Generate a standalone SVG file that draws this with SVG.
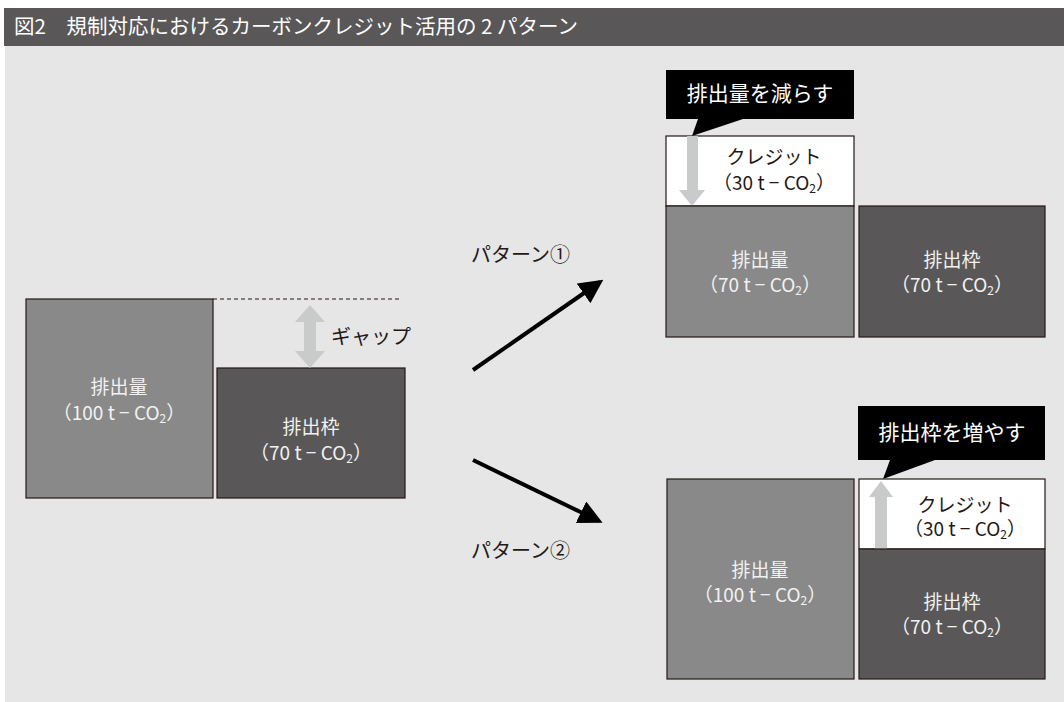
<svg xmlns="http://www.w3.org/2000/svg" width="1064" height="702" viewBox="0 0 1064 702">
<defs>
<style>
text{font-family:"Noto Sans CJK JP","Noto Sans",sans-serif;}
.lt{fill:#f2f2f2;font-size:19px;text-anchor:middle;}
.dk{fill:#231815;font-size:19px;text-anchor:middle;}
.em{fill:#898989;stroke:#231815;stroke-width:1.2;}
.cap{fill:#595757;stroke:#231815;stroke-width:1.2;}
.cr{fill:#ffffff;stroke:#231815;stroke-width:1.2;}
.bub{fill:#000000;}
.bt{fill:#ffffff;font-size:21px;text-anchor:middle;}
.ga{fill:#c9caca;}
.lbl{fill:#231815;font-size:20px;}
.con{stroke:#000;stroke-width:4;fill:none;}
.sub{font-size:12px;}
</style>
<marker id="ah" markerWidth="6" markerHeight="6" refX="5" refY="3" orient="auto" markerUnits="strokeWidth">
<path d="M0,0 L6,3 L0,6 Z" fill="#000"/>
</marker>
</defs>
<rect x="0" y="0" width="1064" height="702" fill="#ffffff"/>
<rect x="5" y="46" width="1059" height="656" fill="#e6e6e6"/>
<g id="header">
<rect x="4" y="8" width="1060" height="38" fill="#595757"/>
<text x="14" y="34" fill="#ffffff" font-size="20.5">図2　規制対応におけるカーボンクレジット活用の 2 パターン</text>
</g>
<g id="left-emission">
<rect class="em" x="26" y="299" width="187" height="199"/>
<text class="lt" x="119" y="394">排出量</text>
<text class="lt" x="119" y="420">（100 t − CO<tspan class="sub" dy="3">2</tspan><tspan dy="-3">）</tspan></text>
</g>
<g id="left-cap">
<rect class="cap" x="217" y="368" width="188" height="130"/>
<text class="lt" x="311" y="434">排出枠</text>
<text class="lt" x="311" y="460">（70 t − CO<tspan class="sub" dy="3">2</tspan><tspan dy="-3">）</tspan></text>
</g>
<g id="gap">
<line x1="213" y1="299" x2="402" y2="299" stroke="#231815" stroke-width="1" stroke-dasharray="4,3"/>
<path class="ga" d="M310,305 L325,322 L316,322 L316,351 L325,351 L310,368 L295,351 L304,351 L304,322 L295,322 Z"/>
<text class="lbl" x="331" y="344">ギャップ</text>
</g>
<g id="connectors">
<line class="con" x1="473" y1="370" x2="600" y2="282" marker-end="url(#ah)"/>
<line class="con" x1="473" y1="460" x2="599" y2="521" marker-end="url(#ah)"/>
</g>
<g id="label-p1"><text class="lbl" x="471" y="262">パターン①</text></g>
<g id="label-p2"><text class="lbl" x="471" y="558">パターン②</text></g>
<g id="p1-bubble">
<path class="bub" d="M666,70 L854,70 L854,119 L743,119 L692,136 L698,119 L666,119 Z"/>
<text class="bt" x="760" y="101">排出量を減らす</text>
</g>
<g id="p1-credit">
<rect class="cr" x="666" y="136" width="188" height="70"/>
<text class="dk" x="774" y="164">クレジット</text>
<text class="dk" x="774" y="190">（30 t − CO<tspan class="sub" dy="3">2</tspan><tspan dy="-3">）</tspan></text>
<path class="ga" d="M687,136 L698,136 L698,190 L705,190 L692,206 L679,190 L687,190 Z"/>
</g>
<g id="p1-emission">
<rect class="em" x="666" y="206" width="188" height="131"/>
<text class="lt" x="760" y="267">排出量</text>
<text class="lt" x="760" y="292">（70 t − CO<tspan class="sub" dy="3">2</tspan><tspan dy="-3">）</tspan></text>
</g>
<g id="p1-cap">
<rect class="cap" x="859" y="206" width="186" height="131"/>
<text class="lt" x="952" y="267">排出枠</text>
<text class="lt" x="952" y="292">（70 t − CO<tspan class="sub" dy="3">2</tspan><tspan dy="-3">）</tspan></text>
</g>
<g id="p2-bubble">
<path class="bub" d="M858,406 L1045,406 L1045,460 L935,460 L883,479 L890,460 L858,460 Z"/>
<text class="bt" x="952" y="440">排出枠を増やす</text>
</g>
<g id="p2-emission">
<rect class="em" x="667" y="479" width="187" height="200"/>
<text class="lt" x="760" y="577">排出量</text>
<text class="lt" x="760" y="602">（100 t − CO<tspan class="sub" dy="3">2</tspan><tspan dy="-3">）</tspan></text>
</g>
<g id="p2-credit">
<rect class="cr" x="859" y="479" width="186" height="70"/>
<text class="dk" x="965" y="512">クレジット</text>
<text class="dk" x="965" y="536">（30 t − CO<tspan class="sub" dy="3">2</tspan><tspan dy="-3">）</tspan></text>
<path class="ga" d="M881,481 L893,497 L887,497 L887,549 L875,549 L875,497 L869,497 Z"/>
</g>
<g id="p2-cap">
<rect class="cap" x="859" y="549" width="186" height="130"/>
<text class="lt" x="952" y="609">排出枠</text>
<text class="lt" x="952" y="634">（70 t − CO<tspan class="sub" dy="3">2</tspan><tspan dy="-3">）</tspan></text>
</g>
</svg>
